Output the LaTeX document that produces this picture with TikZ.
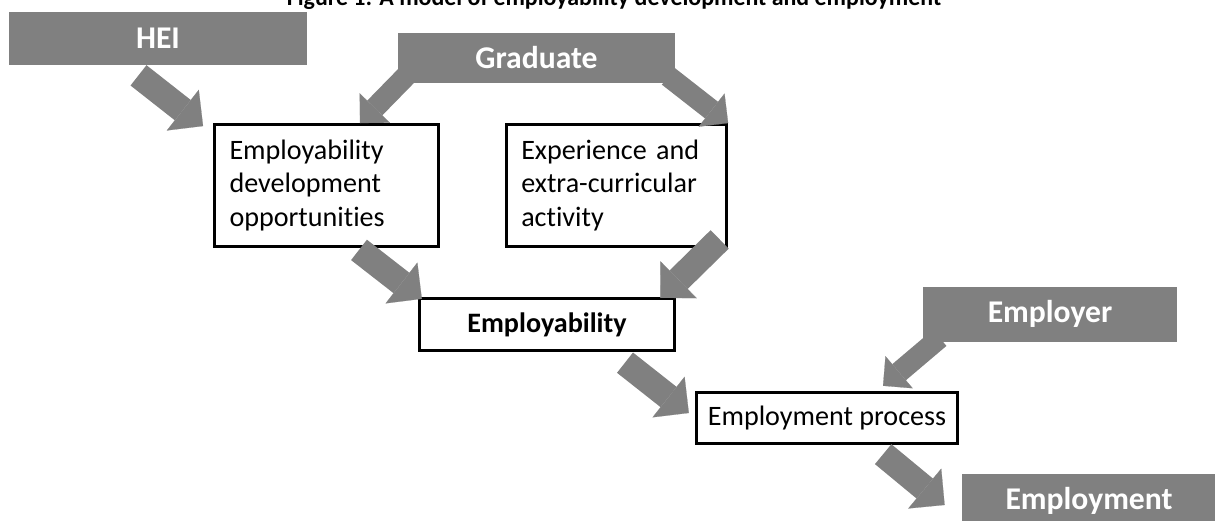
\documentclass[tikz,border=0pt]{standalone}
\usepackage{fontspec}
\setmainfont{Carlito}[Ligatures = {NoCommon, NoContextual}]
\usetikzlibrary{arrows.meta}
\definecolor{boxgray}{RGB}{128,128,128}

\begin{document}
\begin{tikzpicture}[
        graybox/.style = {fill = boxgray, text = white, font = \fontsize{18}{22}\selectfont\bfseries, minimum height = 1.06cm, inner sep = 0pt},
        whitebox/.style = {draw = black, line width = 1.6pt, fill = white, font = \fontsize{16}{18.8}\selectfont, inner sep = 0pt},
        fatarrow/.style = {draw = boxgray, line width = 14.7pt, -{Triangle[width = 29.5pt, length = 14.7pt, line width = 0.1pt]}},
        slimarrow/.style = {draw = boxgray, line width = 12pt, -{Triangle[width = 24pt, length = 12pt, line width = 0.1pt]}}
    ]
        \useasboundingbox (0, 0) rectangle (24.3, -10.42);
        \node[anchor = base, font = \fontsize{13.6}{16}\selectfont\bfseries] (title) at (12.28, -0.12) {Figure 1: A model of employability development and employment};
        % gray boxes
        \node[graybox, minimum width = 5.96cm] (hei) at (3.16, -0.77) {HEI};
        \node[graybox, minimum width = 5.54cm, minimum height = 1cm] (graduate) at (10.73, -1.16) {Graduate};
        \node[graybox, minimum width = 5.08cm, minimum height = 1.1cm] (employer) at (21, -6.28) {Employer};
        \node[graybox, minimum width = 5.08cm] (employment) at (21.78, -10.01) {Employment};
        % white boxes
        \node[whitebox, minimum width = 4.48cm, minimum height = 2.44cm, text width = 3.88cm, align = left] (devopp) at (6.53, -3.71) {Employability\\development\\opportunities};
        \node[whitebox, minimum width = 4.41cm, minimum height = 2.44cm, text width = 3.81cm, align = left] (experience) at (12.33, -3.71) {Experience and\\extra-curricular\\activity};
        \node[whitebox, minimum width = 5.11cm, minimum height = 1.05cm, font = \fontsize{16}{18.8}\selectfont\bfseries] (employability) at (10.94, -6.49) {Employability};
        \node[whitebox, minimum width = 5.23cm, minimum height = 1.03cm] (process) at (16.54, -8.36) {Employment process};
        % arrows
        \draw[fatarrow] ([shift = {(-0.39, -0.2)}]hei.south) -- ([shift = {(-0.2, -0.06)}]devopp.north west);
        \draw[slimarrow] ([shift = {(0.2, 0.18)}]graduate.south west) -- ([xshift = 0.67cm]devopp.north);
        \draw[slimarrow] ([shift = {(-0.14, 0.14)}]graduate.south east) -- (experience.north east);
        \draw[fatarrow] ([shift = {(0.65, -0.04)}]devopp.south) -- ([shift = {(0.08, -0.04)}]employability.north west);
        \draw[fatarrow] ([shift = {(-0.17, 0.17)}]experience.south east) -- ([shift = {(-0.32, -0.02)}]employability.north east);
        \draw[fatarrow] ([shift = {(1.56, -0.21)}]employability.south) -- ([shift = {(-0.12, 0.1)}]process.west);
        \draw[slimarrow] ([shift = {(0.34, 0.08)}]employer.south west) -- ([shift = {(1.12, 0.1)}]process.north);
        \draw[fatarrow] ([shift = {(-1.52, -0.18)}]process.south east) -- ([shift = {(-0.34, -0.09)}]employment.west);
    \end{tikzpicture}
\end{document}
